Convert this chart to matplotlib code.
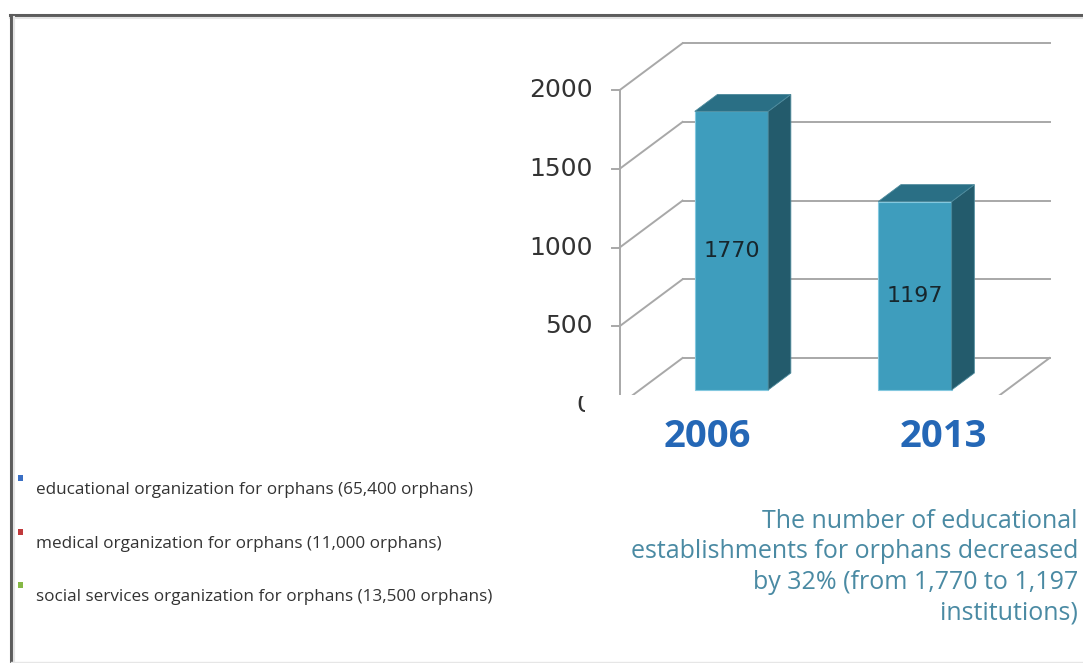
import matplotlib
matplotlib.use("Agg")
import matplotlib.pyplot as plt
from matplotlib.patches import Polygon, Rectangle
from matplotlib.lines import Line2D
from matplotlib.transforms import IdentityTransform

# ---------------- data ----------------
years = ["2006", "2013"]
establishments = [1770, 1197]
y_ticks = [0, 500, 1000, 1500, 2000]

legend_labels = [
    "educational organization for orphans (65,400 orphans)",
    "medical organization for orphans (11,000 orphans)",
    "social services organization for orphans (13,500 orphans)",
]
legend_colors = ["#3a6fc4", "#c0393b", "#86b846"]

note_lines = [
    "The number of educational",
    "establishments for orphans decreased",
    "by 32% (from 1,770 to 1,197",
    "institutions)",
]

# ---------------- layout / style ----------------
W, H = 1083, 663
fig = plt.figure(figsize=(W / 100, H / 100), dpi=100)
fig.patch.set_facecolor("white")

# pixel mapping for the 3D-ish chart
X0 = 711.3          # pixel x of category 0 on front plane
PX_CAT = 183.5      # pixels per category
Y0 = 405.0          # pixel y (from top) of value 0 on front plane
PX_VAL = 0.1574     # pixels per value unit
DX = 63 / PX_CAT    # depth offset (category units)
DY = 47 / PX_VAL    # depth offset (value units)
DF, DB = 0.32, 0.68 # bar front / back depth
BW = 0.40           # bar width

# plot axes region in pixels
ax_l, ax_r, ax_t, ax_b = 480, 1083, 0, 395
ax = fig.add_axes([ax_l / W, 1 - ax_b / H, (ax_r - ax_l) / W, (ax_b - ax_t) / H])
ax.set_xlim((ax_l - X0) / PX_CAT, (ax_r - X0) / PX_CAT)
ax.set_ylim((Y0 - ax_b) / PX_VAL, (Y0 - ax_t) / PX_VAL)
ax.axis("off")

grid_c = "#a8a8a8"
xl, xr = -0.5, len(years) - 0.5
# back wall gridlines and left wall diagonals
for t in y_ticks:
    ax.plot([xl + DX, xr + DX], [t + DY, t + DY], color=grid_c, lw=1.4, zorder=1)
    ax.plot([xl, xl + DX], [t, t + DY], color=grid_c, lw=1.4, zorder=1)
# floor right edge
ax.plot([xr, xr + DX], [0, DY], color=grid_c, lw=1.4, zorder=1)
# front value axis
ax.plot([xl, xl], [0, max(y_ticks)], color=grid_c, lw=1.4, zorder=1)
for t in y_ticks:
    ax.plot([xl - 8 / PX_CAT, xl], [t, t], color=grid_c, lw=1.4, zorder=1)
    txt = ax.text(xl - 27 / PX_CAT, t, str(t), ha="right", va="center",
                  fontsize=18, color="#333333", family="DejaVu Sans",
                  clip_on=False, zorder=5)
    if t == 0:
        # the zero label is cut off in the original
        clip = Rectangle((0, 0), 585, H - 396, transform=IdentityTransform())
        txt.set_clip_path(clip)
        txt.set_clip_on(True)

front_c = "#3e9dbd"
side_c = "#235b6c"
top_c = "#2a6f85"
edge_c = "#83c8df"

xs = [i + DF * DX for i in range(len(years))]
ax.bar(xs, establishments, width=BW, bottom=DF * DY, color=front_c,
       edgecolor=edge_c, linewidth=0.8, zorder=4)
for i, v in enumerate(establishments):
    r = i + BW / 2
    l = i - BW / 2
    side = [(r + DF * DX, DF * DY), (r + DB * DX, DB * DY),
            (r + DB * DX, v + DB * DY), (r + DF * DX, v + DF * DY)]
    top = [(l + DF * DX, v + DF * DY), (r + DF * DX, v + DF * DY),
           (r + DB * DX, v + DB * DY), (l + DB * DX, v + DB * DY)]
    ax.add_patch(Polygon(side, closed=True, facecolor=side_c,
                         edgecolor="#4d8a9c", lw=0.6, zorder=4))
    ax.add_patch(Polygon(top, closed=True, facecolor=top_c,
                         edgecolor="#4d8a9c", lw=0.6, zorder=4))
    ax.text(i + DF * DX, DF * DY + v / 2, str(v), ha="center", va="center",
            fontsize=16, color="#17262c", family="DejaVu Sans", zorder=6)

# category labels (below the chart)
cat_pos = [707, 943]
for lab, px in zip(years, cat_pos):
    fig.text(px / W, 1 - 437 / H, lab, ha="center", va="center",
             fontsize=27.5, fontweight="bold", color="#2467b6",
             family="Open Sans")

# legend entries
for k, (lab, col) in enumerate(zip(legend_labels, legend_colors)):
    ytxt = 490 + 53.5 * k
    fig.patches.append(Rectangle((18 / W, 1 - (ytxt - 9) / H), 5 / W, 6 / H,
                                 transform=fig.transFigure, facecolor=col,
                                 edgecolor="none"))
    fig.text(36 / W, 1 - ytxt / H, lab, ha="left", va="center",
             fontsize=12.3, color="#333333", family="Open Sans")

# note text
for k, line in enumerate(note_lines):
    fig.text(1078 / W, 1 - (521 + 30.7 * k) / H, line, ha="right", va="center",
             fontsize=18, color="#4a8aa3", family="Open Sans")

# outer frame
fig.add_artist(Line2D([10 / W, 1], [1 - 15 / H, 1 - 15 / H],
                      transform=fig.transFigure, color="#5c5c5c", lw=2.2))
fig.add_artist(Line2D([10 / W, 1], [1 - 18 / H, 1 - 18 / H],
                      transform=fig.transFigure, color="#e4e4e4", lw=1.5))
fig.add_artist(Line2D([11 / W, 11 / W], [0, 1 - 15 / H],
                      transform=fig.transFigure, color="#5c5c5c", lw=2.2))
fig.add_artist(Line2D([14 / W, 14 / W], [0, 1 - 17 / H],
                      transform=fig.transFigure, color="#e4e4e4", lw=1.5))
fig.add_artist(Line2D([11 / W, 1], [1 / H, 1 / H],
                      transform=fig.transFigure, color="#e6e6e6", lw=1.0))

fig.savefig("out.png", dpi=100, facecolor="white")
